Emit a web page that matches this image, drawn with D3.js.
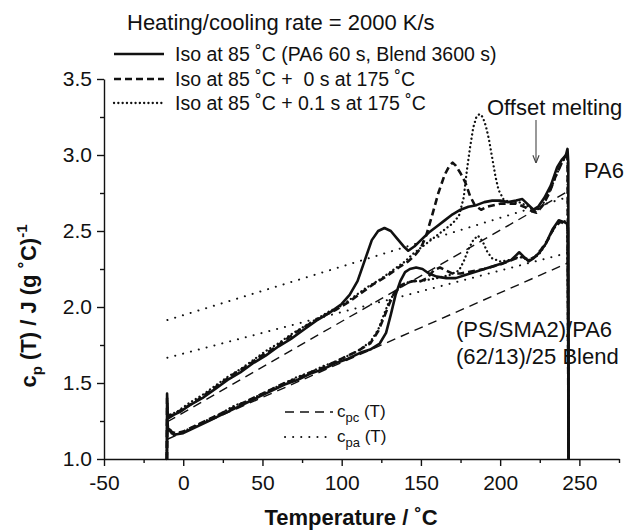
<!DOCTYPE html>
<html>
<head>
<meta charset="utf-8">
<script src="https://cdn.jsdelivr.net/npm/d3@7"></script>
<style>
  body { margin: 0; background: #fff; }
  svg text { font-family: "Liberation Sans", Arial, Helvetica, sans-serif; fill: #111; }
</style>
</head>
<body>
<svg id="chart" width="631" height="532"></svg>
<script>
// Axis ticks
const xTicks = [-50, 0, 50, 100, 150, 200, 250];
const xMinorTicks = [-25, 25, 75, 125, 175, 225, 275];
const yTicks = [1.0, 1.5, 2.0, 2.5, 3.0, 3.5];
const yMinorTicks = [1.25, 1.75, 2.25, 2.75, 3.25];

// Measured heat capacity, [temperature °C, cp J/(g °C)]
const pa6Iso = [[-10.3,1.0],[-10.2,1.43],[-9.8,1.30],[-9,1.27],[-6,1.29],[-2,1.31],[5,1.36],[12,1.40],[20,1.46],[28,1.52],[36,1.57],[44,1.63],[52,1.68],[60,1.74],[68,1.79],[76,1.85],[84,1.91],[92,1.96],[100,2.02],[105,2.08],[110,2.17],[115,2.32],[119,2.44],[123,2.50],[127,2.52],[131,2.50],[135,2.45],[139,2.40],[142,2.37],[146,2.40],[150,2.44],[155,2.49],[160,2.53],[165,2.57],[170,2.61],[175,2.64],[180,2.66],[185,2.67],[190,2.69],[195,2.70],[200,2.70],[205,2.69],[210,2.70],[214,2.71],[218,2.67],[221,2.64],[224,2.66],[228,2.72],[232,2.80],[236,2.92],[239,2.97],[241.5,3.00],[242.5,3.04],[243,2.95],[243.2,1.0]];
const pa6Zero = [[-10.3,1.0],[-10.2,1.40],[-9.8,1.29],[-9,1.28],[-5,1.30],[0,1.33],[8,1.38],[16,1.44],[24,1.50],[32,1.56],[40,1.61],[48,1.67],[56,1.72],[64,1.78],[72,1.84],[80,1.89],[88,1.94],[96,1.98],[104,2.03],[112,2.09],[120,2.15],[128,2.20],[136,2.26],[142,2.30],[147,2.35],[150,2.39],[153,2.46],[157,2.60],[161,2.75],[165,2.87],[168,2.93],[170,2.95],[172,2.93],[175,2.88],[178,2.82],[181,2.73],[184,2.67],[188,2.64],[192,2.66],[200,2.68],[210,2.68],[215,2.66],[220,2.63],[223,2.62],[227,2.67],[231,2.75],[235,2.86],[239,2.95],[242.5,3.02],[243.2,1.0]];
const pa6Tenth = [[-10.3,1.0],[-10.2,1.38],[-9.8,1.30],[-9,1.29],[-4,1.31],[4,1.37],[12,1.42],[20,1.48],[28,1.54],[36,1.59],[44,1.65],[52,1.71],[60,1.76],[68,1.82],[76,1.87],[84,1.92],[92,1.97],[100,2.01],[108,2.07],[116,2.13],[124,2.18],[132,2.24],[140,2.30],[145,2.35],[150,2.39],[155,2.43],[160,2.47],[165,2.51],[170,2.55],[174,2.60],[177,2.72],[179,2.90],[181,3.05],[183,3.18],[185,3.25],[187,3.27],[189,3.25],[191,3.19],[193,3.10],[195,2.98],[197,2.86],[199,2.77],[202,2.71],[206,2.69],[212,2.69],[218,2.66],[222,2.63],[226,2.66],[230,2.73],[234,2.83],[238,2.93],[242.5,3.01],[243.2,1.0]];

const blendIso = [[-10.3,1.0],[-10.1,1.27],[-9.6,1.20],[-8,1.19],[-6,1.16],[-3,1.165],[0,1.17],[8,1.21],[16,1.25],[24,1.29],[32,1.33],[40,1.37],[48,1.41],[56,1.45],[64,1.49],[72,1.52],[80,1.56],[88,1.59],[96,1.63],[104,1.66],[112,1.70],[118,1.72],[124,1.76],[128,1.83],[131,1.95],[134,2.08],[137,2.17],[140,2.23],[143,2.25],[147,2.26],[151,2.25],[155,2.22],[160,2.20],[166,2.19],[172,2.19],[178,2.21],[184,2.23],[190,2.25],[196,2.27],[202,2.29],[207,2.31],[210,2.34],[212,2.36],[215,2.33],[218,2.30],[221,2.32],[225,2.36],[229,2.42],[233,2.51],[237,2.57],[240,2.56],[242,2.55],[242.8,2.52],[243.2,1.0]];
const blendZero = [[-10.3,1.0],[-10.1,1.24],[-9.6,1.21],[-8,1.18],[-5,1.17],[0,1.18],[8,1.22],[16,1.26],[24,1.30],[32,1.34],[40,1.38],[48,1.42],[56,1.46],[64,1.50],[72,1.53],[80,1.57],[88,1.60],[96,1.64],[100,1.66],[110,1.71],[118,1.76],[123,1.84],[127,1.94],[130,2.02],[133,2.09],[137,2.14],[141,2.16],[145,2.17],[150,2.17],[154,2.19],[158,2.24],[162,2.26],[166,2.24],[170,2.22],[175,2.22],[180,2.23],[190,2.25],[200,2.28],[210,2.32],[214,2.33],[218,2.31],[222,2.33],[226,2.38],[230,2.44],[234,2.52],[238,2.56],[242.5,2.54],[243.2,1.0]];
const blendTenth = [[-10.3,1.0],[-10.1,1.22],[-9.6,1.19],[-8,1.17],[-5,1.16],[0,1.18],[8,1.22],[16,1.26],[24,1.30],[32,1.35],[40,1.38],[48,1.42],[56,1.46],[64,1.50],[72,1.54],[80,1.57],[88,1.61],[96,1.64],[100,1.66],[110,1.71],[118,1.77],[123,1.85],[127,1.96],[130,2.04],[134,2.10],[138,2.14],[143,2.17],[150,2.17],[160,2.19],[168,2.21],[174,2.24],[177,2.30],[180,2.38],[183,2.44],[186,2.47],[189,2.43],[192,2.36],[195,2.32],[200,2.30],[207,2.31],[212,2.33],[218,2.31],[224,2.34],[228,2.40],[232,2.48],[236,2.55],[240,2.57],[242.5,2.55],[243.2,1.0]];

// Linear reference heat capacities (crystalline c_pc and amorphous c_pa)
const pa6Cpc = [[-10,1.245],[243,2.763]];
const pa6Cpa = [[-10,1.914],[243,2.724]];
const blendCpc = [[-10,1.130],[243,2.291]];
const blendCpa = [[-10,1.666],[243,2.357]];

const svg = d3.select("#chart");
const margin = { left: 104, right: 12, top: 79, bottom: 73 };
const W = 631, H = 532;

const x = d3.scaleLinear().domain([-50, 275]).range([margin.left, W - margin.right]);
const y = d3.scaleLinear().domain([1.0, 3.5]).range([H - margin.bottom, margin.top]);

const ink = "#111";

// X axis
const gx = svg.append("g").attr("transform", `translate(0,${y(1.0)})`);
gx.call(d3.axisBottom(x).tickValues(xTicks).tickFormat(d => String(d)).tickSize(7).tickPadding(9).tickSizeOuter(0));
gx.append("g").call(d3.axisBottom(x).tickValues(xMinorTicks).tickFormat("").tickSize(4).tickSizeOuter(0))
  .select(".domain").remove();

// Y axis
const gy = svg.append("g").attr("transform", `translate(${x(-50)},0)`);
gy.call(d3.axisLeft(y).tickValues(yTicks).tickFormat(d3.format(".1f")).tickSize(7).tickPadding(5).tickSizeOuter(0));
gy.append("g").call(d3.axisLeft(y).tickValues(yMinorTicks).tickFormat("").tickSize(4).tickSizeOuter(0))
  .select(".domain").remove();

svg.selectAll(".domain, .tick line").attr("stroke", ink).attr("stroke-width", 1.4);
svg.selectAll(".tick text").attr("font-size", 21).attr("fill", ink)
  .attr("font-family", '"Liberation Sans", Arial, sans-serif');

// Axis titles
svg.append("text").attr("x", 351).attr("y", 525).attr("text-anchor", "middle")
  .attr("font-size", 22).attr("font-weight", "bold").text("Temperature / ˚C");

const yt = svg.append("text").attr("transform", "translate(36,306) rotate(-90)")
  .attr("text-anchor", "middle").attr("font-size", 22).attr("font-weight", "bold");
yt.append("tspan").text("c");
yt.append("tspan").attr("font-size", 15).attr("dy", 6).text("p");
yt.append("tspan").attr("dy", -6).text(" (T) / J (g ˚C)");
yt.append("tspan").attr("font-size", 15).attr("dy", -9).text("-1");

const line = d3.line().x(d => x(d[0])).y(d => y(d[1]));

const styles = {
  solid:  { w: 2.6, dash: null, cap: "butt" },
  dashed: { w: 2.6, dash: "7,4", cap: "butt" },
  dotted: { w: 2.3, dash: "0.1,4.2", cap: "round" },
  cpc:    { w: 1.4, dash: "9,6", cap: "butt" },
  cpa:    { w: 2.0, dash: "0.1,8", cap: "round" }
};

function draw(data, st) {
  const s = styles[st];
  svg.append("path").datum(data).attr("d", line)
    .attr("fill", "none").attr("stroke", ink).attr("stroke-width", s.w)
    .attr("stroke-dasharray", s.dash).attr("stroke-linecap", s.cap)
    .attr("stroke-linejoin", "round");
}

// Reference lines
draw(pa6Cpc, "cpc");
draw(pa6Cpa, "cpa");
draw(blendCpc, "cpc");
draw(blendCpa, "cpa");

// Measured curves
draw(blendTenth, "dotted");
draw(blendZero, "dashed");
draw(blendIso, "solid");
draw(pa6Tenth, "dotted");
draw(pa6Zero, "dashed");
draw(pa6Iso, "solid");

// Legend
svg.append("text").attr("x", 127).attr("y", 30).attr("font-size", 22)
  .text("Heating/cooling rate = 2000 K/s");

const legendRows = [
  { st: "solid",  y: 54,  label: "Iso at 85 ˚C (PA6 60 s, Blend 3600 s)" },
  { st: "dashed", y: 79,  label: "Iso at 85 ˚C +  0 s at 175 ˚C" },
  { st: "dotted", y: 103, label: "Iso at 85 ˚C + 0.1 s at 175 ˚C" }
];
legendRows.forEach(r => {
  const s = styles[r.st];
  svg.append("line").attr("x1", 114).attr("x2", 164).attr("y1", r.y).attr("y2", r.y)
    .attr("stroke", ink).attr("stroke-width", s.w).attr("stroke-dasharray", s.dash)
    .attr("stroke-linecap", s.cap);
  svg.append("text").attr("x", 175).attr("y", r.y + 7).attr("font-size", 19.5)
    .attr("xml:space", "preserve").text(r.label);
});

// Reference-line legend
const refRows = [
  { st: "cpc", y: 412, sub: "pc" },
  { st: "cpa", y: 437, sub: "pa" }
];
refRows.forEach(r => {
  const s = styles[r.st];
  svg.append("line").attr("x1", 285).attr("x2", 333).attr("y1", r.y).attr("y2", r.y)
    .attr("stroke", ink).attr("stroke-width", s.w).attr("stroke-dasharray", s.dash)
    .attr("stroke-linecap", s.cap);
  const t = svg.append("text").attr("x", 337).attr("y", r.y + 5).attr("font-size", 17);
  t.append("tspan").text("c");
  t.append("tspan").attr("font-size", 13).attr("dy", 5).text(r.sub);
  t.append("tspan").attr("dy", -5).text(" (T)");
});

// Annotations
svg.append("text").attr("x", 487).attr("y", 115).attr("font-size", 22).text("Offset melting");
svg.append("defs").append("marker").attr("id", "arrowhead")
  .attr("viewBox", "0 0 10 10").attr("refX", 10).attr("refY", 5)
  .attr("markerWidth", 7).attr("markerHeight", 7).attr("orient", "auto")
  .append("path").attr("d", "M0,1 L10,5 L0,9").attr("fill", "none").attr("stroke", "#444").attr("stroke-width", 1.5);
svg.append("line").attr("x1", 536).attr("x2", 536).attr("y1", 120).attr("y2", 163)
  .attr("stroke", "#444").attr("stroke-width", 1.1).attr("marker-end", "url(#arrowhead)");

svg.append("text").attr("x", 584).attr("y", 178).attr("font-size", 22).text("PA6");
svg.append("text").attr("x", 456).attr("y", 337).attr("font-size", 22).text("(PS/SMA2)/PA6");
svg.append("text").attr("x", 456).attr("y", 364).attr("font-size", 22).text("(62/13)/25 Blend");
</script>
</body>
</html>
